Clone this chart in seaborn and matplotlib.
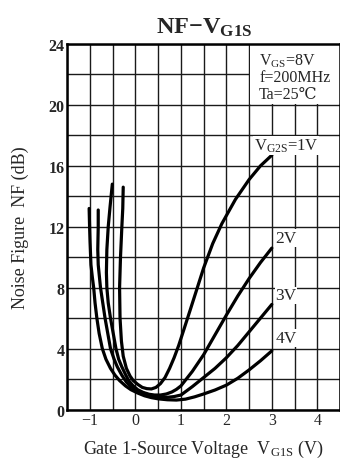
import matplotlib
matplotlib.use("Agg")
import matplotlib.pyplot as plt
from matplotlib.patches import Rectangle
import seaborn as sns
import pandas as pd

# ---- data ----
vg2s_labels = ["1V", "2V", "3V", "4V"]

x_1v = [-0.27, -0.28, -0.30, -0.33, -0.35, -0.34, -0.31, -0.27, -0.20, -0.12, -0.05, 0.05, 0.15, 0.25, 0.35,
        0.45, 0.55, 0.65, 0.75, 0.85, 0.95, 1.07, 1.2, 1.35, 1.5, 1.7, 1.9, 2.2, 2.5, 2.75, 3.0]
y_1v = [14.6, 13.2, 12.0, 10.0, 8.0, 6.0, 4.5, 3.5, 2.7, 2.2, 1.9, 1.65, 1.45, 1.37, 1.35,
        1.45, 1.7, 2.1, 2.7, 3.4, 4.2, 5.3, 6.5, 7.9, 9.3, 10.9, 12.2, 13.8, 15.1, 16.0, 16.7]

x_2v = [-0.51, -0.56, -0.60, -0.63, -0.64, -0.63, -0.60, -0.55, -0.49, -0.43, -0.37, -0.30, -0.22, -0.15, -0.05,
        0.05, 0.17, 0.30, 0.42, 0.55, 0.68, 0.80, 0.90, 1.0, 1.25, 1.5, 1.75, 2.0, 2.25, 2.5, 2.75, 3.0]
y_2v = [14.8, 13.3, 12.0, 10.5, 9.0, 8.0, 7.0, 6.0, 5.0, 4.0, 3.3, 2.8, 2.3, 1.9, 1.55,
        1.3, 1.12, 1.0, 0.95, 0.95, 1.02, 1.15, 1.32, 1.55, 2.5, 3.6, 4.9, 6.2, 7.45, 8.6, 9.65, 10.6]

x_3v = [-0.82, -0.82, -0.83, -0.82, -0.77, -0.72, -0.67, -0.61, -0.55, -0.47, -0.40, -0.30, -0.20, -0.10, 0.0,
        0.15, 0.30, 0.50, 0.70, 0.85, 1.0, 1.25, 1.5, 1.75, 2.0, 2.25, 2.5, 2.75, 3.0]
y_3v = [13.1, 12.0, 10.5, 9.5, 8.0, 7.0, 6.0, 5.0, 4.0, 3.3, 2.8, 2.25, 1.8, 1.5, 1.3,
        1.1, 0.95, 0.85, 0.8, 0.85, 0.95, 1.5, 2.1, 2.7, 3.4, 4.2, 5.1, 6.0, 6.9]

x_4v = [-1.02, -1.01, -1.00, -0.98, -0.95, -0.92, -0.89, -0.85, -0.80, -0.73, -0.65, -0.55, -0.45, -0.35, -0.22,
        -0.10, 0.05, 0.20, 0.35, 0.50, 0.70, 0.90, 1.1, 1.3, 1.5, 1.75, 2.0, 2.25, 2.5, 2.75, 3.0]
y_4v = [13.2, 12.0, 11.0, 9.5, 8.7, 8.0, 7.0, 6.0, 5.0, 4.0, 3.3, 2.7, 2.25, 1.9, 1.55,
        1.3, 1.08, 0.9, 0.78, 0.7, 0.64, 0.62, 0.68, 0.83, 1.02, 1.28, 1.6, 2.05, 2.6, 3.2, 3.85]

x_ticks = [-1, 0, 1, 2, 3, 4]
y_ticks = [0, 4, 8, 12, 16, 20, 24]

cond_lines = ["V$_{\\mathrm{GS}}$=8V", "f=200MHz", "Ta=25\u2103"]
label_pos_y = [17.35, 11.25, 7.5, 4.7]

# ---- style ----
sns.set_style("white")
plt.rcParams["font.family"] = ["Liberation Serif", "DejaVu Serif"]
plt.rcParams["mathtext.fontset"] = "custom"
plt.rcParams["mathtext.rm"] = "Liberation Serif"
plt.rcParams["mathtext.bf"] = "Liberation Serif:bold"
plt.rcParams["mathtext.it"] = "Liberation Serif:italic"

fig = plt.figure(figsize=(3.4, 4.64), dpi=100)
ax = fig.add_axes([0.198, 0.1153, 0.802, 0.7877])

frames = []
for lab, xs, ys in zip(vg2s_labels, [x_1v, x_2v, x_3v, x_4v], [y_1v, y_2v, y_3v, y_4v]):
    frames.append(pd.DataFrame({"x": xs, "y": ys, "curve": lab}))
df = pd.concat(frames, ignore_index=True)

for lab in vg2s_labels:
    sub = df[df["curve"] == lab]
    sns.lineplot(data=sub, x="x", y="y", sort=False, estimator=None, color="black",
                 linewidth=2.3, ax=ax, zorder=4)

ax.set_xlim(-1.5, 4.5)
ax.set_ylim(0, 24)
ax.set_xticks([v / 2 for v in range(-3, 10)])
ax.set_yticks(list(range(0, 25, 2)))
ax.grid(True, color="#1a1a1a", linewidth=1.0, zorder=0)
ax.set_axisbelow(True)

ax.set_xticklabels(["" if (v / 2) not in x_ticks else ("\u22121" if v == -2 else str(int(v / 2)))
                    for v in range(-3, 10)], fontsize=11.5)
ax.set_yticklabels([str(v) if v in y_ticks else "" for v in range(0, 25, 2)],
                   fontsize=11.5, fontweight="bold")
ax.tick_params(length=0, pad=2)

for side in ["left", "bottom", "top", "right"]:
    ax.spines[side].set_color("black")
    ax.spines[side].set_linewidth(1.8)

# white box behind the conditions text
ax.add_patch(Rectangle((2.53, 20.08), 2.1, 4.0, facecolor="white", edgecolor="none", zorder=1))

ax.text(2.72, 22.65, cond_lines[0], fontsize=11.5, zorder=5)
ax.text(2.72, 21.55, cond_lines[1], fontsize=11.5, zorder=5)
ax.text(2.72, 20.45, cond_lines[2], fontsize=11.5, zorder=5)

ax.text(2.6, label_pos_y[0], "V$_{\\mathrm{G2S}}$=1V", fontsize=12, va="center", zorder=5,
        bbox=dict(facecolor="white", edgecolor="none", pad=0.5))
for lab, yy in zip(vg2s_labels[1:], label_pos_y[1:]):
    ax.text(3.08, yy, lab, fontsize=12.5, va="center", zorder=5,
            bbox=dict(facecolor="white", edgecolor="none", pad=0.5))

ax.set_xlabel("Gate 1-Source Voltage  V$_{\\mathrm{G1S}}$ (V)", fontsize=13, labelpad=7)
ax.set_ylabel("Noise Figure  NF (dB)", fontsize=13, labelpad=14)
ax.set_title("NF\u2212V$_{\\mathbf{G1S}}$", fontsize=17.5, fontweight="bold", pad=8)

fig.savefig("out.png", dpi=100)
